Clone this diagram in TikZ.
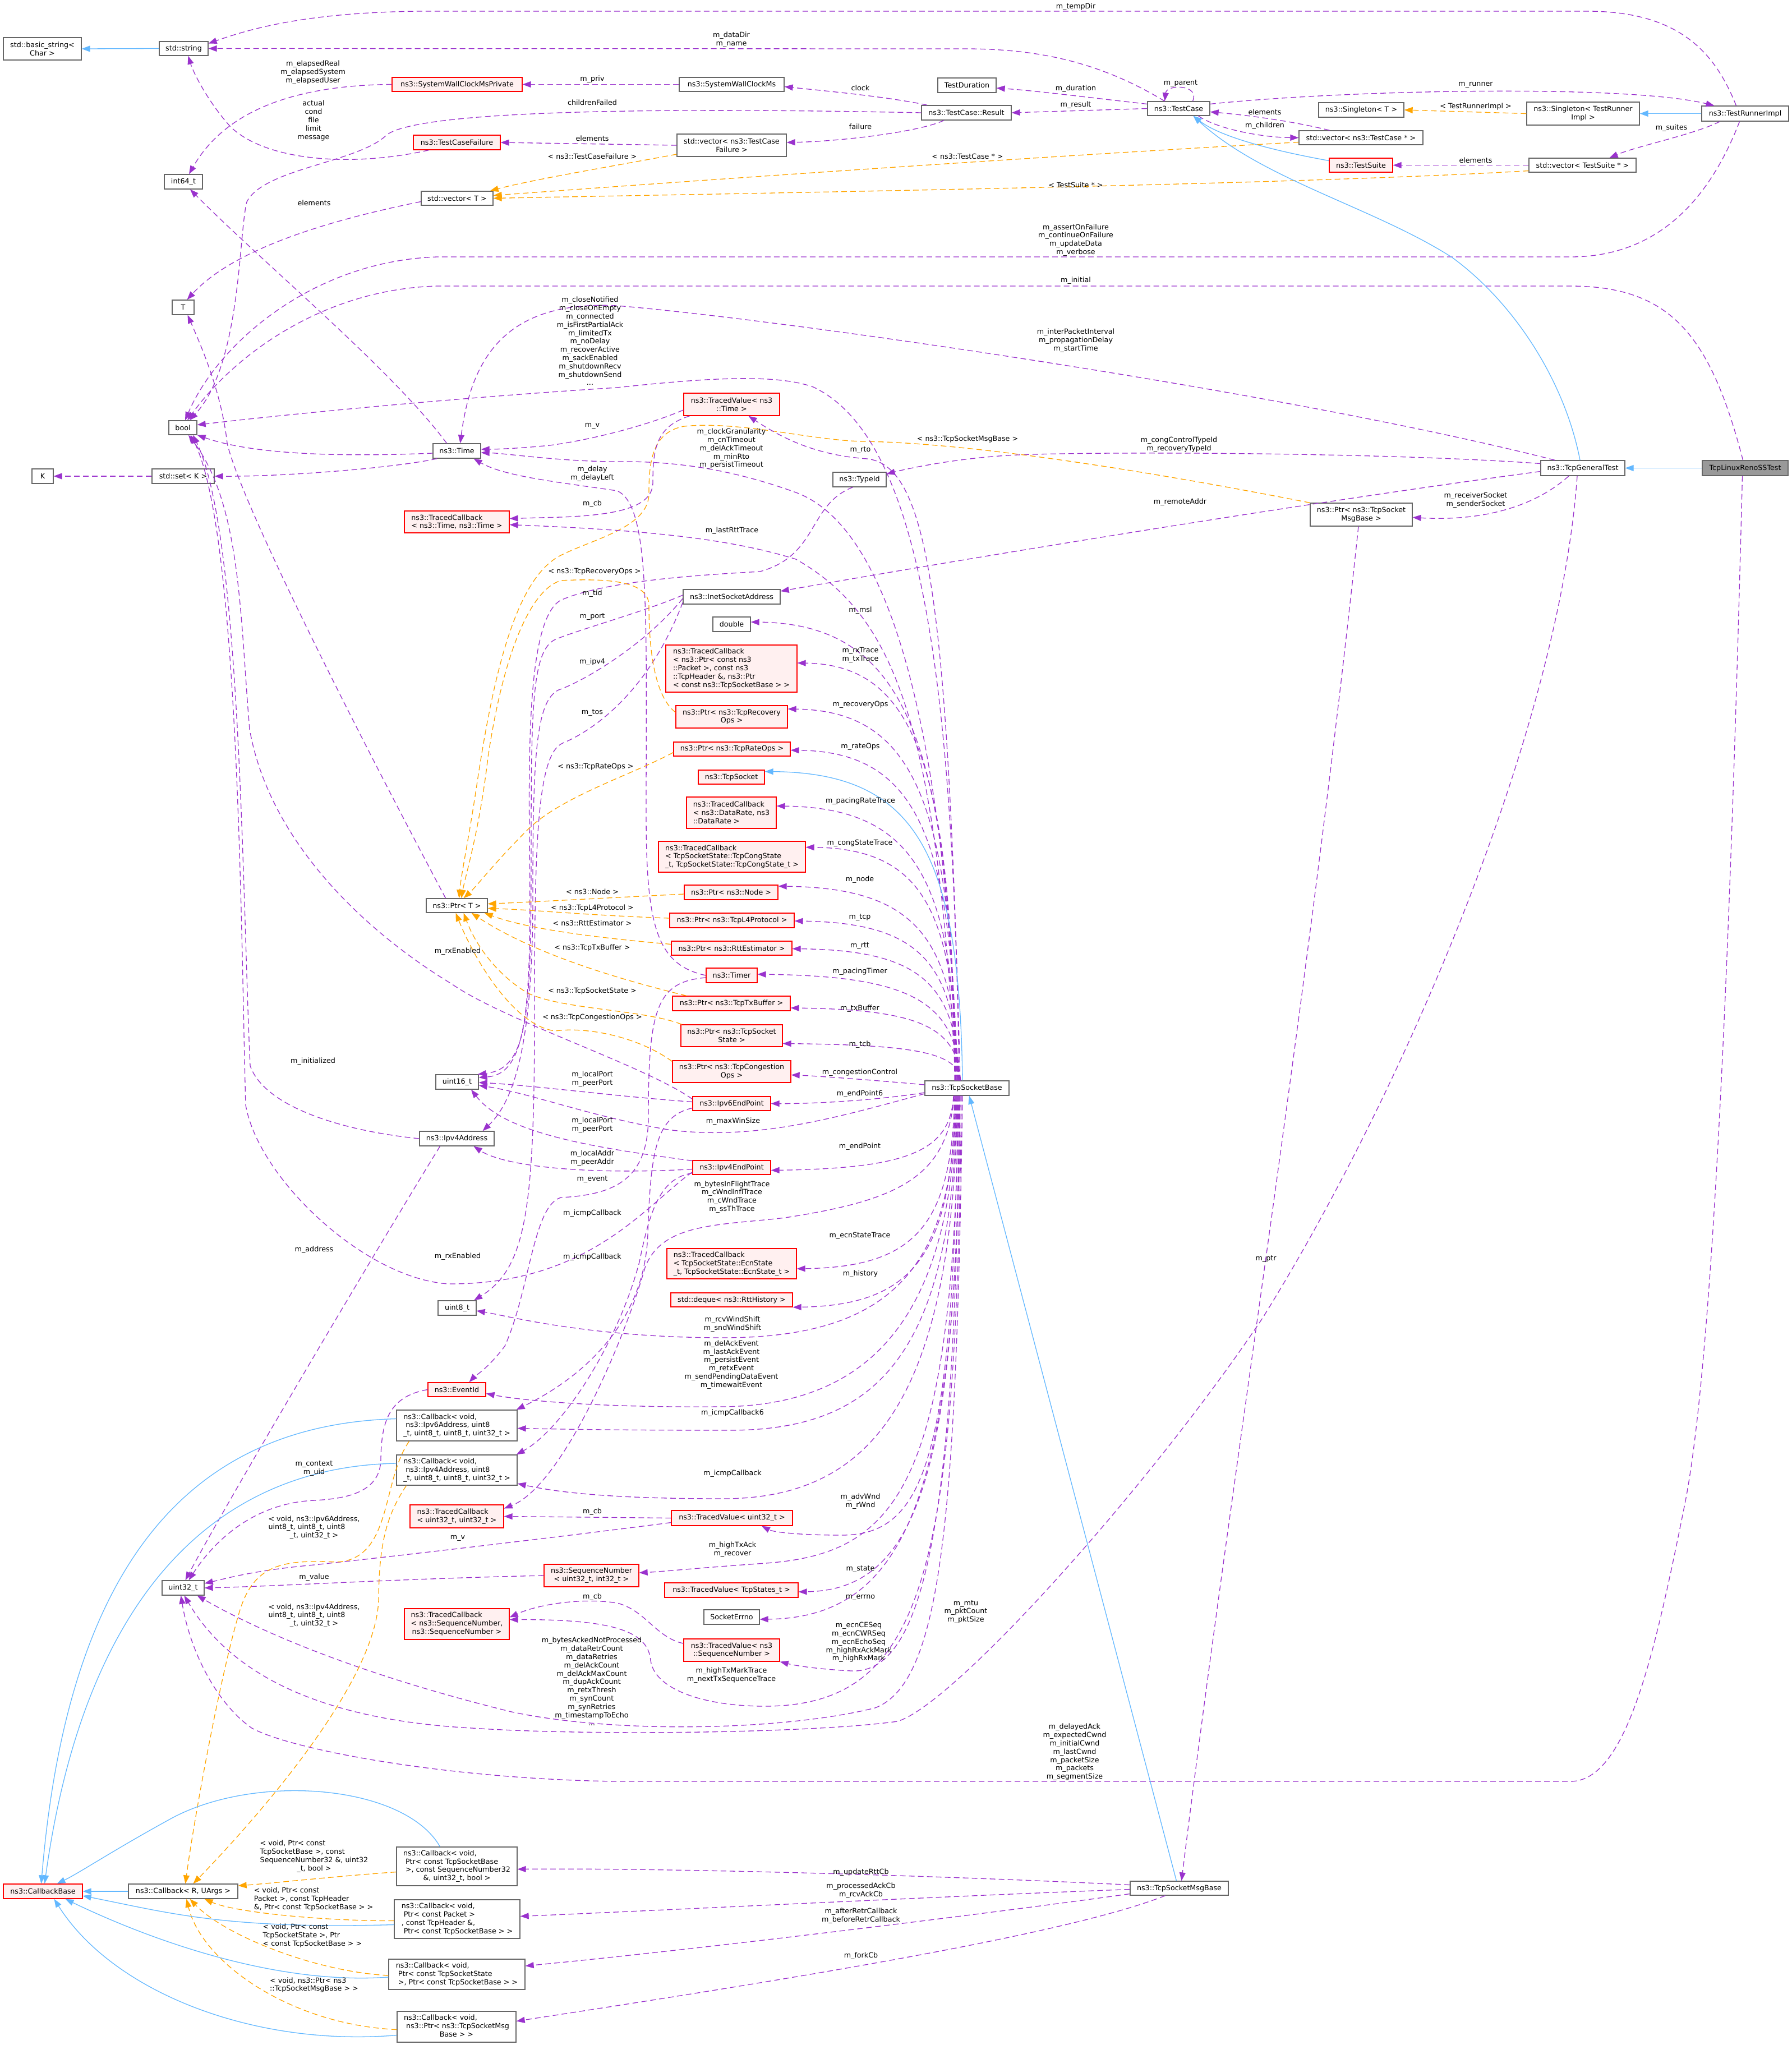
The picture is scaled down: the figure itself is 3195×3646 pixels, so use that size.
\documentclass[tikz,border=0pt]{standalone}
\usepackage{fontspec}
\setmainfont{DejaVu Sans}
\usetikzlibrary{arrows.meta}
\newcommand\nf{\fontsize{12.7}{14.8}\selectfont}
\newcommand\lc[2]{\begin{tabular}{@{}l@{}}#1\\\multicolumn{1}{@{}c@{}}{#2}\end{tabular}}
\definecolor{purp}{HTML}{9A32CD}
\definecolor{blu}{HTML}{63B8FF}
\definecolor{orng}{HTML}{FFA500}
\definecolor{boxgray}{HTML}{666666}
\definecolor{redfill}{HTML}{FFF0F0}
\definecolor{grayfill}{HTML}{999999}
\tikzset{
  cls/.style={draw=boxgray, fill=white, line width=1.3pt, inner sep=0pt, align=center, font=\nf},
  redcls/.style={cls, draw=red, fill=redfill},
  usee/.style={draw=purp, line width=1.3pt, dash pattern=on 10pt off 6pt, -{Triangle[length=15pt,width=11pt]}},
  inh/.style={draw=blu, line width=1.3pt, -{Triangle[length=15pt,width=11pt]}},
  tmpl/.style={draw=orng, line width=1.3pt, dash pattern=on 10pt off 6pt, -{Triangle[length=15pt,width=11pt]}},
  lbl/.style={font=\nf, align=center, inner sep=0pt}
}
\begin{document}
\begin{tikzpicture}[x=1pt,y=-1pt]
\fill[white] (0,0) rectangle (3195,3646);
\useasboundingbox (0,0) rectangle (3195,3646);

% ---------------- nodes ----------------
\node[cls,minimum width=139pt,minimum height=40pt] (basicstr) at (75.5,87) {std::basic\_string<\\Char >};
\node[cls,minimum width=87pt,minimum height=25pt] (stdstring) at (327.5,86.5) {std::string};
\node[redcls,minimum width=232pt,minimum height=25pt] (swcmp) at (815,150.5) {ns3::SystemWallClockMsPrivate};
\node[cls,minimum width=187pt,minimum height=25pt] (swcm) at (1304.5,150.5) {ns3::SystemWallClockMs};
\node[cls,minimum width=104pt,minimum height=26pt] (testduration) at (1724,152) {TestDuration};
\node[cls,minimum width=160pt,minimum height=26pt] (result) at (1723,201) {ns3::TestCase::Result};
\node[cls,minimum width=111pt,minimum height=25pt] (testcase) at (2101.5,193.5) {ns3::TestCase};
\node[cls,minimum width=152pt,minimum height=26pt] (singletonT) at (2427,196) {ns3::Singleton< T >};
\node[cls,minimum width=201pt,minimum height=41pt] (singletonTR) at (2822.5,202.5) {ns3::Singleton< TestRunner\\Impl >};
\node[cls,minimum width=155pt,minimum height=27pt] (trimpl) at (3111.5,202.5) {ns3::TestRunnerImpl};
\node[redcls,minimum width=155pt,minimum height=26pt] (tcfailure) at (814.5,254) {ns3::TestCaseFailure};
\node[cls,minimum width=195pt,minimum height=40pt] (vecTCF) at (1304.5,259) {std::vector< ns3::TestCase\\Failure >};
\node[cls,minimum width=221pt,minimum height=25pt] (vecTC) at (2426.5,245.5) {std::vector< ns3::TestCase * >};
\node[cls,minimum width=68pt,minimum height=26pt] (int64) at (327,324) {int64\_t};
\node[redcls,minimum width=113pt,minimum height=25pt] (testsuite) at (2426.5,294.5) {ns3::TestSuite};
\node[cls,minimum width=191pt,minimum height=25pt] (vecTS) at (2821.5,294.5) {std::vector< TestSuite * >};
\node[cls,minimum width=128pt,minimum height=25pt] (vecT) at (815,353.5) {std::vector< T >};
\node[cls,minimum width=39pt,minimum height=26pt] (T) at (326.5,548) {T};
\node[cls,minimum width=50pt,minimum height=25pt] (bool) at (326,762.5) {bool};
\node[redcls,minimum width=171pt,minimum height=40pt] (tvTime) at (1304.5,721) {ns3::TracedValue< ns3\\::Time >};
\node[cls,minimum width=85pt,minimum height=26pt] (time) at (814.5,804) {ns3::Time};
\node[cls,minimum width=95pt,minimum height=26pt] (typeid) at (1532.5,855) {ns3::TypeId};
\node[cls,minimum width=150pt,minimum height=27pt] (tcpgt) at (2822,834.5) {ns3::TcpGeneralTest};
\node[cls,fill=grayfill,minimum width=153pt,minimum height=27pt] (reno) at (3111.5,834.5) {TcpLinuxRenoSSTest};
\node[cls,minimum width=182pt,minimum height=41pt] (ptrMsg) at (2427,917.5) {ns3::Ptr< ns3::TcpSocket\\MsgBase >};
\node[cls,minimum width=38pt,minimum height=26pt] (K) at (76,849) {K};
\node[cls,minimum width=111pt,minimum height=26pt] (setK) at (326.5,849) {std::set< K >};
\node[redcls,align=left,minimum width=187pt,minimum height=39pt] (tcTime) at (814.5,930.5) {ns3::TracedCallback\\< ns3::Time, ns3::Time >};
\node[cls,minimum width=173pt,minimum height=26pt] (inet) at (1304.5,1064) {ns3::InetSocketAddress};
\node[cls,minimum width=67pt,minimum height=26pt] (double) at (1304.5,1113) {double};
\node[redcls,align=left,minimum width=234pt,minimum height=84pt] (tcPacket) at (1304,1192) {ns3::TracedCallback\\< ns3::Ptr< const ns3\\::Packet >, const ns3\\::TcpHeader \&, ns3::Ptr\\< const ns3::TcpSocketBase > >};
\node[redcls,minimum width=199pt,minimum height=40pt] (ptrRec) at (1304.5,1278) {ns3::Ptr< ns3::TcpRecovery\\Ops >};
\node[redcls,minimum width=208pt,minimum height=25pt] (ptrRate) at (1305,1335.5) {ns3::Ptr< ns3::TcpRateOps >};
\node[redcls,minimum width=118pt,minimum height=25pt] (tcpsocket) at (1304,1385.5) {ns3::TcpSocket};
\node[redcls,align=left,minimum width=160pt,minimum height=56pt] (tcDataRate) at (1304,1449) {ns3::TracedCallback\\< ns3::DataRate, ns3\\::DataRate >};
\node[redcls,align=left,minimum width=262pt,minimum height=55pt] (tcCong) at (1305,1527.5) {ns3::TracedCallback\\< TcpSocketState::TcpCongState\\\_t, TcpSocketState::TcpCongState\_t >};
\node[cls,minimum width=109pt,minimum height=25pt] (ptrT) at (814.5,1614.5) {ns3::Ptr< T >};
\node[redcls,minimum width=167pt,minimum height=26pt] (ptrNode) at (1303.5,1591) {ns3::Ptr< ns3::Node >};
\node[redcls,minimum width=222pt,minimum height=26pt] (ptrL4) at (1305,1641) {ns3::Ptr< ns3::TcpL4Protocol >};
\node[redcls,minimum width=215pt,minimum height=25pt] (ptrRtt) at (1304.5,1690.5) {ns3::Ptr< ns3::RttEstimator >};
\node[redcls,minimum width=91pt,minimum height=26pt] (timer) at (1304.5,1739) {ns3::Timer};
\node[redcls,minimum width=210pt,minimum height=26pt] (ptrTx) at (1304,1789) {ns3::Ptr< ns3::TcpTxBuffer >};
\node[redcls,minimum width=181pt,minimum height=39pt] (ptrTcb) at (1304.5,1846.5) {ns3::Ptr< ns3::TcpSocket\\State >};
\node[redcls,minimum width=211pt,minimum height=39pt] (ptrCong) at (1304.5,1910.5) {ns3::Ptr< ns3::TcpCongestion\\Ops >};
\node[cls,minimum width=150pt,minimum height=26pt] (tsb) at (1724,1940) {ns3::TcpSocketBase};
\node[cls,minimum width=76pt,minimum height=26pt] (uint16) at (815,1929) {uint16\_t};
\node[redcls,minimum width=139pt,minimum height=25pt] (ipv6ep) at (1304.5,1967.5) {ns3::Ipv6EndPoint};
\node[cls,minimum width=133pt,minimum height=26pt] (ipv4addr) at (814.5,2030) {ns3::Ipv4Address};
\node[redcls,minimum width=139pt,minimum height=25pt] (ipv4ep) at (1304.5,2081.5) {ns3::Ipv4EndPoint};
\node[redcls,align=left,minimum width=231pt,minimum height=54pt] (tcEcn) at (1304.5,2253) {ns3::TracedCallback\\< TcpSocketState::EcnState\\\_t, TcpSocketState::EcnState\_t >};
\node[redcls,minimum width=217pt,minimum height=25pt] (deque) at (1304.5,2317.5) {std::deque< ns3::RttHistory >};
\node[cls,minimum width=68pt,minimum height=26pt] (uint8) at (815,2332) {uint8\_t};
\node[redcls,minimum width=103pt,minimum height=25pt] (eventid) at (814.5,2477.5) {ns3::EventId};
\node[cls,align=left,minimum width=215pt,minimum height=55pt] (cbIpv6) at (814.5,2541.5) {ns3::Callback< void,\\\hspace*{4pt}ns3::Ipv6Address, uint8\\\_t, uint8\_t, uint8\_t, uint32\_t >};
\node[cls,align=left,minimum width=215pt,minimum height=54pt] (cbIpv4) at (814.5,2621) {ns3::Callback< void,\\\hspace*{4pt}ns3::Ipv4Address, uint8\\\_t, uint8\_t, uint8\_t, uint32\_t >};
\node[redcls,align=left,minimum width=167pt,minimum height=41pt] (tcU32) at (814.5,2703.5) {ns3::TracedCallback\\< uint32\_t, uint32\_t >};
\node[redcls,minimum width=216pt,minimum height=27pt] (tvU32) at (1305,2706.5) {ns3::TracedValue< uint32\_t >};
\node[cls,minimum width=75pt,minimum height=26pt] (uint32) at (326.5,2831) {uint32\_t};
\node[redcls,minimum width=169pt,minimum height=40pt] (seqnum) at (1054.5,2809) {ns3::SequenceNumber\\< uint32\_t, int32\_t >};
\node[redcls,minimum width=238pt,minimum height=26pt] (tvStates) at (1304,2835) {ns3::TracedValue< TcpStates\_t >};
\node[cls,minimum width=99pt,minimum height=26pt] (sockerrno) at (1304.5,2883) {SocketErrno};
\node[redcls,minimum width=187pt,minimum height=55pt] (tcSeq) at (814.5,2895.5) {\lc{ns3::TracedCallback\\< ns3::SequenceNumber,}{ns3::SequenceNumber >}};
\node[redcls,minimum width=171pt,minimum height=40pt] (tvSeq) at (1304.5,2942) {ns3::TracedValue< ns3\\::SequenceNumber >};
\node[redcls,minimum width=141pt,minimum height=26pt] (cbBase) at (76.5,3372) {ns3::CallbackBase};
\node[cls,minimum width=195pt,minimum height=26pt] (cbRU) at (326.5,3372) {ns3::Callback< R, UArgs >};
\node[cls,minimum width=215pt,minimum height=69pt] (cbSeq) at (814.5,3327.5) {\lc{ns3::Callback< void,\\\hspace*{4pt}Ptr< const TcpSocketBase\\\hspace*{4pt}>, const SequenceNumber32}{\&, uint32\_t, bool >}};
\node[cls,align=left,minimum width=224pt,minimum height=69pt] (cbPkt) at (815,3421.5) {ns3::Callback< void,\\\hspace*{4pt}Ptr< const Packet >\\, const TcpHeader \&,\\\hspace*{4pt}Ptr< const TcpSocketBase > >};
\node[cls,align=left,minimum width=243pt,minimum height=54pt] (cbState) at (814.5,3520) {ns3::Callback< void,\\\hspace*{4pt}Ptr< const TcpSocketState\\\hspace*{4pt}>, Ptr< const TcpSocketBase > >};
\node[cls,minimum width=212pt,minimum height=55pt] (cbMsg) at (814,3613.5) {\lc{ns3::Callback< void,\\\hspace*{4pt}ns3::Ptr< ns3::TcpSocketMsg}{Base > >}};
\node[cls,minimum width=175pt,minimum height=25pt] (msgbase) at (2102.5,3366.5) {ns3::TcpSocketMsgBase};

% ---------------- top edges ----------------
\draw[usee] ([xshift=-16pt]trimpl.north) .. controls (3060,100) and (3000,20) .. (2830,20) -- (750,20) .. controls (550,22) and (450,50) .. ([yshift=9pt]stdstring.east);
\draw[usee] ([xshift=-25pt]testcase.north) .. controls (1960,110) and (1850,87) .. (1720,87) -- (stdstring.east);
\draw[inh] (stdstring.west) -- (basicstr.east);
\draw[usee] (swcmp.west) .. controls (520,152) and (400,200) .. ([xshift=10pt]int64.north);
\draw[usee] (swcm.west) -- (swcmp.east);
\draw[usee] ([xshift=-70pt]result.north) .. controls (1580,172) and (1470,162) .. ([yshift=-4pt]swcm.east);
\draw[usee] (result.west) .. controls (1300,194) and (760,190) .. (690,240) .. controls (640,290) and (470,300) .. (440,360) .. controls (425,420) and (430,650) .. ([xshift=12pt]bool.north);
\draw[usee] ([xshift=-40pt]result.south) .. controls (1640,235) and (1500,252) .. ([yshift=5pt]vecTCF.east);
\draw[usee] (testcase.west) -- (result.east);
\draw[usee] ([yshift=8pt]testcase.west) .. controls (1950,175) and (1850,162) .. ([yshift=-5pt]testduration.east);
\draw[usee] ([xshift=25pt]testcase.north) .. controls (2140,150) and (2080,150) .. ([xshift=-25pt]testcase.north);
\draw[usee] ([xshift=-50pt]tcfailure.south) .. controls (620,300) and (470,285) .. (410,225) .. controls (370,180) and (345,130) .. ([xshift=8pt]stdstring.south);
\draw[usee] (vecTCF.west) -- (tcfailure.east);
\draw[tmpl] ([yshift=-16pt]vecTCF.west) .. controls (1100,295) and (950,320) .. ([xshift=-6pt]vecT.north east);
\draw[usee] ([xshift=-56pt]vecTC.north) .. controls (2300,215) and (2220,205) .. ([yshift=-6pt]testcase.east);
\draw[usee] ([xshift=35pt]testcase.south) .. controls (2170,230) and (2250,245) .. (vecTC.west);
\draw[inh] ([yshift=8pt]testsuite.west) .. controls (2250,265) and (2170,240) .. ([xshift=26pt]testcase.south);
\draw[tmpl] ([yshift=-8pt]vecTC.west) .. controls (1800,282) and (1200,325) .. ([yshift=5pt]vecT.east);
\draw[usee] (vecTS.west) -- (testsuite.east);
\draw[tmpl] ([yshift=-10pt]vecTS.west) .. controls (2300,330) and (1300,345) .. (vecT.east);
\draw[tmpl] (singletonTR.west) -- (singletonT.east);
\draw[inh] (trimpl.west) -- (singletonTR.east);
\draw[usee] ([xshift=-45pt]trimpl.south) .. controls (3020,240) and (2920,260) .. ([xshift=48pt]vecTS.north);
\draw[usee] ([yshift=8pt]testcase.east) .. controls (2400,160) and (2900,150) .. ([xshift=-55pt]trimpl.north);
\draw[usee] ([yshift=-6pt]vecT.west) .. controls (600,390) and (420,440) .. ([xshift=7pt]T.north);
\draw[usee] ([xshift=-10pt]trimpl.south) .. controls (3050,350) and (2960,458) .. (2800,458) -- (780,458) .. controls (560,465) and (390,610) .. ([xshift=4pt]bool.north);
\draw[usee] ([xshift=-4pt]reno.north) .. controls (3050,600) and (2980,510) .. (2800,510) -- (780,510) .. controls (580,515) and (420,630) .. ([xshift=8pt]bool.north);
\draw[usee] ([xshift=-50pt]tcpgt.north) .. controls (2300,700) and (1400,570) .. (1100,545) .. controls (900,535) and (840,640) .. ([xshift=6pt]time.north);
\draw[inh] ([xshift=-5pt]tcpgt.north) .. controls (2790,680) and (2700,540) .. (2589,459) .. controls (2450,370) and (2250,320) .. ([xshift=26pt]testcase.south);
\draw[inh] (reno.west) -- (tcpgt.east);
\draw[usee] ([yshift=8pt]tcpgt.west) .. controls (2450,805) and (1900,805) .. (1796,812) .. controls (1700,818) and (1620,835) .. ([yshift=10pt]typeid.east);
\draw[usee] ([yshift=-6pt]tcpgt.west) .. controls (2300,900) and (1700,1000) .. ([yshift=10pt]inet.east);
\draw[usee] ([xshift=-25pt]tcpgt.south) .. controls (2740,900) and (2650,930) .. ([yshift=-5pt]ptrMsg.east);
\draw[tmpl] (ptrMsg.north west) .. controls (2100,850) and (1750,790) .. (1541,787) .. controls (1450,786) and (1320,750) .. (1220,760) .. controls (1160,770) and (1157,830) .. (1157,880) .. controls (1157,940) and (1060,960) .. (1000,990) .. controls (920,1030) and (880,1200) .. (850,1400) .. controls (835,1500) and (822,1560) .. ([xshift=4pt]ptrT.north);
\draw[usee] ([xshift=-5pt]ptrMsg.south) .. controls (2330,1800) and (2200,2600) .. ([xshift=4pt]msgbase.north);
\draw[usee] ([xshift=-5pt]reno.south) .. controls (3090,1500) and (3060,2400) .. (3004,2681) .. controls (2950,2950) and (2900,3176) .. (2800,3176) -- (1100,3176) .. controls (800,3172) and (520,3120) .. (449,3081) .. controls (390,3040) and (340,2950) .. ([xshift=-4pt]uint32.south);
\draw[usee] ([xshift=-10pt]tcpgt.south) .. controls (2780,1300) and (2500,1950) .. (2251,2350) .. controls (2050,2650) and (1700,3040) .. (1600,3069) .. controls (1450,3090) and (1050,3095) .. (842,3081) .. controls (600,3068) and (420,3000) .. ([xshift=2pt]uint32.south);

% ---------------- TcpSocketBase upward ----------------
\draw[usee] ([xshift=-14pt]tsb.north) .. controls (1700,1200) and (1640,780) .. (1450,690) .. controls (1380,665) and (1250,675) .. (1100,691) .. controls (800,710) and (500,740) .. ([yshift=5pt]bool.east);
\draw[usee] ([xshift=-12pt]tsb.north) .. controls (1690,1100) and (1660,830) .. (1546,818) .. controls (1460,812) and (1400,785) .. ([xshift=30pt]tvTime.south);
\draw[usee] ([xshift=-16pt]tsb.north) .. controls (1680,1200) and (1560,930) .. (1419,878) .. controls (1300,835) and (1200,822) .. (1100,823) .. controls (1000,823) and (900,808) .. ([yshift=-3pt]time.east);
\draw[usee] (timer.west) .. controls (1170,1720) and (1152,1650) .. (1152,1450) .. controls (1152,1100) and (1160,900) .. (1100,875) .. controls (1000,860) and (900,850) .. ([xshift=30pt]time.south);
\draw[usee] ([yshift=-10pt]tvTime.west) .. controls (1150,760) and (1050,785) .. (980,794) .. controls (920,800) and (880,801) .. ([yshift=3pt]time.east);
\draw[usee] ([xshift=-75pt]tvTime.south) .. controls (1170,760) and (1164,800) .. (1164,860) .. controls (1164,905) and (1100,918) .. (1000,922) -- ([yshift=6pt]tcTime.east);
\draw[usee] ([xshift=-20pt]tsb.north) .. controls (1670,1300) and (1600,1100) .. (1419,997) .. controls (1300,960) and (1150,945) .. ([yshift=-5pt]tcTime.east);
\draw[usee] ([xshift=-12pt]typeid.south) .. controls (1440,900) and (1460,990) .. (1355,1019) .. controls (1250,1025) and (1080,1035) .. (1000,1070) .. controls (945,1100) and (942,1300) .. (944,1500) .. controls (948,1800) and (940,1915) .. ([yshift=8pt]uint16.east);
\draw[usee] ([yshift=3pt]inet.west) .. controls (1150,1090) and (1040,1120) .. (990,1140) .. controls (950,1160) and (947,1250) .. (947,1500) .. controls (947,1800) and (945,1905) .. ([xshift=-2pt]uint16.north east);
\draw[usee] ([yshift=-3pt]inet.west) .. controls (1150,1150) and (1040,1215) .. (996,1230) .. controls (955,1250) and (950,1350) .. (950,1600) .. controls (950,1850) and (920,1960) .. ([xshift=46pt]ipv4addr.north);
\draw[usee] ([yshift=-10pt]inet.west) .. controls (1150,1250) and (1040,1310) .. (1003,1325) .. controls (958,1345) and (953,1500) .. (953,1800) .. controls (953,2150) and (940,2260) .. ([xshift=30pt]uint8.north);
\draw[tmpl] ([yshift=8pt]ptrRec.west) .. controls (1165,1240) and (1157,1150) .. (1157,1080) .. controls (1157,1040) and (1100,1030) .. (1000,1035) .. controls (950,1050) and (900,1150) .. (870,1350) .. controls (855,1480) and (830,1560) .. ([xshift=8pt]ptrT.north);
\draw[tmpl] ([yshift=-6pt]ptrRate.west) .. controls (1130,1380) and (1000,1420) .. (940,1480) .. controls (880,1540) and (850,1580) .. ([xshift=12pt]ptrT.north);
% Ptr<T> template instances
\draw[tmpl] ([yshift=-3pt]ptrNode.west) .. controls (1100,1600) and (950,1608) .. ([yshift=3pt]ptrT.east);
\draw[tmpl] ([yshift=4pt]ptrL4.west) .. controls (1050,1632) and (950,1622) .. ([yshift=-5pt]ptrT.east);
\draw[tmpl] ([yshift=7pt]ptrRtt.west) .. controls (1100,1675) and (950,1660) .. ([xshift=-6pt]ptrT.south east);
\draw[tmpl] ([xshift=-80pt]ptrTx.north) .. controls (1100,1745) and (950,1700) .. ([xshift=26pt]ptrT.south);
\draw[tmpl] ([xshift=2pt]ptrTcb.north west) .. controls (1150,1800) and (1000,1800) .. (940,1770) .. controls (890,1740) and (850,1690) .. ([xshift=12pt]ptrT.south);
\draw[tmpl] ([yshift=-2pt]ptrCong.north west) .. controls (1140,1850) and (1050,1830) .. (990,1838) .. controls (920,1830) and (850,1720) .. ([xshift=-2pt]ptrT.south);

\draw[usee] ([xshift=-22pt]tsb.north) .. controls (1697,1314) and (1611,1112) .. ([yshift=4pt]double.east);
\draw[usee] ([xshift=-21pt]tsb.north) .. controls (1698,1368) and (1632,1185) .. ([yshift=10pt]tcPacket.east);
\draw[usee] ([xshift=-20pt]tsb.north) .. controls (1699,1430) and (1629,1267) .. ([yshift=14pt]ptrRec.east);
\draw[usee] ([xshift=-19pt]tsb.north) .. controls (1700,1485) and (1631,1340) .. ([yshift=-2pt]ptrRate.east);
\draw[inh] ([xshift=-8pt]tsb.north) .. controls (1711,1513) and (1628,1378) .. ([yshift=10pt]tcpsocket.east);
\draw[usee] ([xshift=-18pt]tsb.north) .. controls (1701,1560) and (1625,1440) .. ([yshift=12pt]tcDataRate.east);
\draw[usee] ([xshift=-17pt]tsb.north) .. controls (1702,1615) and (1639,1513) .. ([yshift=17pt]tcCong.east);
\draw[usee] ([xshift=-16pt]tsb.north) .. controls (1703,1667) and (1628,1583) .. ([yshift=11pt]ptrNode.east);
\draw[usee] ([xshift=-15pt]tsb.north) .. controls (1704,1713) and (1636,1645) .. ([yshift=-1pt]ptrL4.east);
\draw[usee] ([xshift=-14pt]tsb.north) .. controls (1705,1751) and (1636,1694) .. ([yshift=-1pt]ptrRtt.east);
\draw[usee] ([xshift=-13pt]tsb.north) .. controls (1706,1785) and (1621,1740) .. ([yshift=2pt]timer.east);
\draw[usee] ([xshift=-12pt]tsb.north) .. controls (1707,1830) and (1636,1800) .. ([yshift=-8pt]ptrTx.east);
\draw[usee] ([xshift=-11pt]tsb.north) .. controls (1708,1877) and (1633,1863) .. ([yshift=-14pt]ptrTcb.east);
\draw[usee] ([yshift=6pt]tsb.west) .. controls (1550,1925) and (1450,1918) .. ([yshift=-6pt]ptrCong.east);
\draw[usee] ([yshift=-8pt]tsb.west) .. controls (1560,1962) and (1450,1968) .. (ipv6ep.east);

% ---------------- TcpSocketBase downward ----------------
\draw[usee] ([xshift=-24pt]tsb.south) .. controls (1695,2053) and (1618,2083) .. ([yshift=-5pt]ipv4ep.east);
\draw[usee] ([xshift=-22pt]tsb.south) .. controls (1697,2185) and (1631,2259) .. ([yshift=-9pt]tcEcn.east);
\draw[usee] ([xshift=-21pt]tsb.south) .. controls (1698,2236) and (1630,2327) .. (deque.south east);
\draw[usee] ([xshift=-13pt]tsb.south) .. controls (1706,2617) and (1639,2835) .. ([yshift=-3pt]tvStates.east);
\draw[usee] ([xshift=-12pt]tsb.south) .. controls (1707,2653) and (1622,2884) .. ([yshift=-4pt]sockerrno.east);
\draw[usee] ([xshift=-20pt]tsb.south) .. controls (1700,2250) and (1600,2385) .. (1289,2385) .. controls (1050,2385) and (900,2345) .. ([yshift=-5pt]uint8.east);
\draw[usee] ([xshift=-19pt]tsb.south) .. controls (1700,2350) and (1550,2505) .. (1289,2508) .. controls (1050,2510) and (920,2495) .. ([yshift=-7pt]eventid.east);
\draw[usee] ([xshift=-18pt]tsb.south) .. controls (1700,2420) and (1560,2550) .. (1300,2550) .. controls (1100,2550) and (1000,2548) .. ([yshift=-5pt]cbIpv6.east);
\draw[usee] ([xshift=-17pt]tsb.south) .. controls (1700,2500) and (1550,2672) .. (1289,2672) .. controls (1100,2672) and (1000,2662) .. ([yshift=-24pt]cbIpv4.east);
\draw[usee] ([xshift=-16pt]tsb.south) .. controls (1700,2600) and (1650,2737) .. (1500,2737) .. controls (1430,2737) and (1380,2732) .. ([xshift=53pt]tvU32.south);
\draw[usee] ([xshift=-15pt]tsb.south) .. controls (1700,2650) and (1600,2770) .. (1365,2787) .. controls (1250,2795) and (1180,2802) .. ([yshift=5pt]seqnum.east);
\draw[usee] ([xshift=-14pt]tsb.south) .. controls (1705,2700) and (1650,2985) .. (1518,2979) .. controls (1460,2976) and (1420,2970) .. (tvSeq.south east);
\draw[usee] ([xshift=-10pt]tsb.south) .. controls (1705,2800) and (1650,3040) .. (1365,3042) .. controls (1250,3042) and (1166,3010) .. (1160,2960) .. controls (1155,2910) and (1100,2887) .. ([yshift=8pt]tcSeq.east);
\draw[usee] ([xshift=-8pt]tsb.south) .. controls (1705,2700) and (1680,3000) .. (1560,3045) .. controls (1400,3085) and (1100,3092) .. (912,3052) .. controls (700,3000) and (500,2930) .. ([xshift=25pt]uint32.south);
\draw[usee] ([xshift=-23pt]tsb.south) .. controls (1690,2100) and (1600,2140) .. (1400,2171) .. controls (1280,2185) and (1180,2180) .. (1150,2260) .. controls (1110,2400) and (1000,2650) .. ([yshift=14pt]tcU32.east);
\draw[usee] ([yshift=-10pt]tsb.west) .. controls (1500,1990) and (1350,2035) .. (1191,2014) .. controls (1050,1990) and (950,1950) .. ([yshift=-6pt]uint16.east);

% ---------------- left-middle ----------------
\draw[usee] ([yshift=3pt]ipv6ep.west) .. controls (1100,1955) and (950,1935) .. ([yshift=-1pt]uint16.east);
\draw[usee] ([yshift=12pt]ipv4ep.west) .. controls (1050,2045) and (900,2020) .. ([xshift=25pt]uint16.south);
\draw[usee] ([yshift=-3pt]ipv4ep.west) .. controls (1050,2095) and (900,2080) .. ([xshift=30pt]ipv4addr.south);
\draw[usee] ([yshift=8pt]ipv6ep.west) .. controls (1150,1900) and (900,1820) .. (805,1754) .. controls (650,1660) and (480,1500) .. (445,1300) .. controls (428,1100) and (430,900) .. ([xshift=10pt]bool.south);
\draw[usee] ([yshift=-8pt]ipv4ep.west) .. controls (1150,2150) and (1050,2290) .. (800,2289) .. controls (650,2280) and (460,2100) .. (438,1970) .. controls (430,1700) and (428,950) .. ([xshift=14pt]bool.south);
\draw[usee] (ipv4addr.west) .. controls (600,2015) and (470,1970) .. (446,1900) .. controls (432,1600) and (430,950) .. ([xshift=18pt]bool.south);
\draw[usee] ([yshift=-4pt]time.west) .. controls (600,815) and (450,810) .. (bool.south east);
\draw[usee] ([xshift=8pt]time.south west) .. controls (700,835) and (500,850) .. (setK.east);
\draw[usee] (setK.west) -- (K.east);
\draw[usee] ([xshift=-18pt]time.north) .. controls (700,660) and (470,470) .. ([xshift=12pt]int64.south);
\draw[usee] ([xshift=-20pt]ptrT.north) .. controls (650,1330) and (430,900) .. (405,790) .. controls (395,700) and (360,620) .. ([xshift=8pt]T.south);
\draw[usee] ([yshift=-4pt]timer.west) .. controls (1170,1750) and (1156,1800) .. (1156,1990) .. controls (1156,2100) and (1100,2130) .. (1000,2135) .. controls (950,2150) and (945,2300) .. (900,2400) .. controls (870,2440) and (845,2455) .. ([xshift=22pt]eventid.north);
\draw[usee] ([yshift=-8pt]ipv6ep.west) .. controls (1170,1990) and (1160,2050) .. (1155,2200) .. controls (1150,2350) and (1050,2450) .. ([xshift=-2pt]cbIpv6.north east);
\draw[usee] ([yshift=-10pt]ipv4ep.west) .. controls (1180,2100) and (1160,2150) .. (1140,2250) .. controls (1100,2400) and (1000,2550) .. ([xshift=-2pt]cbIpv4.north east);
\draw[usee] (tvU32.west) -- (tcU32.east);
\draw[usee] ([yshift=-8pt]tvU32.west) .. controls (1000,2740) and (700,2775) .. (560,2790) .. controls (450,2800) and (400,2815) .. ([yshift=8pt]uint32.east);
\draw[usee] (seqnum.west) .. controls (700,2815) and (500,2828) .. (uint32.east);
\draw[usee] ([yshift=12pt]tvSeq.west) .. controls (1170,2920) and (1150,2870) .. (1100,2858) .. controls (1040,2848) and (960,2860) .. ([yshift=12pt]tcSeq.east);
\draw[usee] (eventid.west) .. controls (690,2490) and (680,2540) .. (679,2602) .. controls (678,2660) and (620,2672) .. (560,2675) .. controls (450,2680) and (380,2750) .. ([xshift=10pt]uint32.north);
\draw[usee] ([xshift=-30pt]ipv4addr.south) .. controls (700,2180) and (420,2650) .. ([xshift=4pt]uint32.north);

% ---------------- bottom-left ----------------
\draw[tmpl] ([xshift=-85pt]cbIpv6.south) .. controls (680,2640) and (700,2780) .. (600,2785) .. controls (500,2780) and (450,2790) .. (425,2880) .. controls (390,3000) and (345,3250) .. ([xshift=4pt]cbRU.north);
\draw[tmpl] ([xshift=-90pt]cbIpv4.south) .. controls (690,2700) and (676,2750) .. (675,2850) .. controls (673,3000) and (450,3250) .. ([xshift=18pt]cbRU.north);
\draw[tmpl] ([yshift=-10pt]cbSeq.west) .. controls (600,3345) and (480,3358) .. ([yshift=10pt]cbRU.east);
\draw[tmpl] ([yshift=-3pt]cbPkt.west) .. controls (580,3425) and (420,3410) .. ([xshift=38pt]cbRU.south);
\draw[tmpl] ([yshift=-2pt]cbState.west) .. controls (560,3515) and (400,3450) .. ([xshift=12pt]cbRU.south);
\draw[tmpl] ([yshift=-5pt]cbMsg.west) .. controls (520,3610) and (360,3500) .. ([xshift=6pt]cbRU.south);
\draw[inh] (cbRU.west) -- (cbBase.east);
\draw[inh] ([yshift=12pt]cbIpv6.west) .. controls (330,2540) and (120,2800) .. ([xshift=-3pt]cbBase.north);
\draw[inh] ([yshift=12pt]cbIpv4.west) .. controls (380,2615) and (150,2850) .. ([xshift=3pt]cbBase.north);
\draw[inh] ([xshift=-30pt]cbSeq.north) .. controls (720,3180) and (450,3160) .. (300,3245) .. controls (200,3300) and (140,3340) .. ([xshift=25pt]cbBase.north);
\draw[inh] ([yshift=-10pt]cbPkt.west) .. controls (400,3440) and (300,3410) .. ([yshift=-8pt]cbBase.east);
\draw[inh] ([yshift=-5pt]cbState.west) .. controls (480,3540) and (250,3450) .. ([xshift=40pt]cbBase.south);
\draw[inh] ([yshift=-15pt]cbMsg.west) .. controls (450,3650) and (200,3550) .. ([xshift=20pt]cbBase.south);

% ---------------- TcpSocketMsgBase ----------------
\draw[inh] ([xshift=-5pt]msgbase.north) -- ([xshift=4pt]tsb.south);
\draw[usee] ([yshift=6pt]msgbase.west) .. controls (1700,3345) and (1200,3330) .. ([yshift=-5pt]cbSeq.east);
\draw[usee] ([yshift=-2pt]msgbase.west) .. controls (1700,3380) and (1200,3405) .. ([yshift=5pt]cbPkt.east);
\draw[usee] ([yshift=-10pt]msgbase.west) .. controls (1700,3420) and (1200,3480) .. ([yshift=15pt]cbState.east);
\draw[usee] ([xshift=-25pt]msgbase.south) .. controls (1900,3450) and (1400,3530) .. ([yshift=10pt]cbMsg.east);

% ---------------- labels ----------------
\node[lbl] (l01) at (1918,12) {m\_tempDir};
\node[lbl] (l02) at (1304,71) {m\_dataDir\\m\_name};
\node[lbl] (l03) at (558,129) {m\_elapsedReal\\m\_elapsedSystem\\m\_elapsedUser};
\node[lbl] (l04) at (1056,141) {m\_priv};
\node[lbl] (l05) at (1534,157) {clock};
\node[lbl] (l06) at (1056,183) {childrenFailed};
\node[lbl] (l07) at (1534,226) {failure};
\node[lbl] (l08) at (1918,187) {m\_result};
\node[lbl] (l09) at (1918,158) {m\_duration};
\node[lbl] (l10) at (2105,149) {m\_parent};
\node[lbl] (l11) at (559,215) {actual\\cond\\file\\limit\\message};
\node[lbl] (l12) at (1056,247) {elements};
\node[lbl] (l13) at (1056,279) {< ns3::TestCaseFailure >};
\node[lbl] (l14) at (2255,200) {elements};
\node[lbl] (l15) at (2255,224) {m\_children};
\node[lbl] (l16) at (1725,279) {< ns3::TestCase * >};
\node[lbl] (l17) at (2631,286) {elements};
\node[lbl] (l18) at (1918,330) {< TestSuite * >};
\node[lbl] (l19) at (2631,190) {< TestRunnerImpl >};
\node[lbl] (l20) at (2980,228) {m\_suites};
\node[lbl] (l21) at (2631,151) {m\_runner};
\node[lbl] (l22) at (560,362) {elements};
\node[lbl] (l23) at (1918,428) {m\_assertOnFailure\\m\_continueOnFailure\\m\_updateData\\m\_verbose};
\node[lbl] (l24) at (1918,500) {m\_initial};
\node[lbl] (l25) at (1918,607) {m\_interPacketInterval\\m\_propagationDelay\\m\_startTime};
\node[lbl] (l26) at (2102,793) {m\_congControlTypeId\\m\_recoveryTypeId};
\node[lbl] (l27) at (2104,895) {m\_remoteAddr};
\node[lbl] (l28) at (2631,892) {m\_receiverSocket\\m\_senderSocket};
\node[lbl] (l29) at (1725,783) {< ns3::TcpSocketMsgBase >};
\node[lbl] (l30) at (2257,2245) {m\_ptr};
\node[lbl] (l31) at (1916,3124) {m\_delayedAck\\m\_expectedCwnd\\m\_initialCwnd\\m\_lastCwnd\\m\_packetSize\\m\_packets\\m\_segmentSize};
\node[lbl] (l32) at (1722,2874) {m\_mtu\\m\_pktCount\\m\_pktSize};
\node[lbl] (l33) at (1052,608) {m\_closeNotified\\m\_closeOnEmpty\\m\_connected\\m\_isFirstPartialAck\\m\_limitedTx\\m\_noDelay\\m\_recoverActive\\m\_sackEnabled\\m\_shutdownRecv\\m\_shutdownSend\\...};
\node[lbl] (l34) at (1534,803) {m\_rto};
\node[lbl] (l35) at (1304,800) {m\_clockGranularity\\m\_cnTimeout\\m\_delAckTimeout\\m\_minRto\\m\_persistTimeout};
\node[lbl] (l36) at (1056,845) {m\_delay\\m\_delayLeft};
\node[lbl] (l37) at (1056,759) {m\_v};
\node[lbl] (l38) at (1056,898) {m\_cb};
\node[lbl] (l39) at (1305,946) {m\_lastRttTrace};
\node[lbl] (l40) at (1056,1058) {m\_tid};
\node[lbl] (l41) at (1056,1100) {m\_port};
\node[lbl] (l42) at (1056,1180) {m\_ipv4};
\node[lbl] (l43) at (1056,1271) {m\_tos};
\node[lbl] (l44) at (1060,1019) {< ns3::TcpRecoveryOps >};
\node[lbl] (l45) at (1062,1367) {< ns3::TcpRateOps >};
\node[lbl] (l46) at (1534,1088) {m\_msl};
\node[lbl] (l47) at (1534,1168) {m\_rxTrace\\m\_txTrace};
\node[lbl] (l48) at (1534,1256) {m\_recoveryOps};
\node[lbl] (l49) at (1534,1331) {m\_rateOps};
\node[lbl] (l50) at (1534,1428) {m\_pacingRateTrace};
\node[lbl] (l51) at (1533,1503) {m\_congStateTrace};
\node[lbl] (l52) at (1056,1590) {< ns3::Node >};
\node[lbl] (l53) at (1533,1568) {m\_node};
\node[lbl] (l54) at (1056,1619) {< ns3::TcpL4Protocol >};
\node[lbl] (l55) at (1533,1636) {m\_tcp};
\node[lbl] (l56) at (1056,1646) {< ns3::RttEstimator >};
\node[lbl] (l57) at (1533,1687) {m\_rtt};
\node[lbl] (l58) at (816,1696) {m\_rxEnabled};
\node[lbl] (l59) at (1056,1690) {< ns3::TcpTxBuffer >};
\node[lbl] (l60) at (1533,1732) {m\_pacingTimer};
\node[lbl] (l61) at (1533,1798) {m\_txBuffer};
\node[lbl] (l62) at (1056,1767) {< ns3::TcpSocketState >};
\node[lbl] (l63) at (1533,1862) {m\_tcb};
\node[lbl] (l64) at (1056,1814) {< ns3::TcpCongestionOps >};
\node[lbl] (l65) at (1533,1912) {m\_congestionControl};
\node[lbl] (l66) at (558,1892) {m\_initialized};
\node[lbl] (l67) at (1056,1924) {m\_localPort\\m\_peerPort};
\node[lbl] (l68) at (1533,1950) {m\_endPoint6};
\node[lbl] (l69) at (1307,1999) {m\_maxWinSize};
\node[lbl] (l70) at (1056,2006) {m\_localPort\\m\_peerPort};
\node[lbl] (l71) at (1533,2044) {m\_endPoint};
\node[lbl] (l72) at (1056,2065) {m\_localAddr\\m\_peerAddr};
\node[lbl] (l73) at (1056,2103) {m\_event};
\node[lbl] (l74) at (1305,2134) {m\_bytesInFlightTrace\\m\_cWndInflTrace\\m\_cWndTrace\\m\_ssThTrace};
\node[lbl] (l75) at (1056,2163) {m\_icmpCallback};
\node[lbl] (l76) at (1533,2203) {m\_ecnStateTrace};
\node[lbl] (l77) at (560,2228) {m\_address};
\node[lbl] (l78) at (816,2240) {m\_rxEnabled};
\node[lbl] (l79) at (1056,2241) {m\_icmpCallback};
\node[lbl] (l80) at (1534,2271) {m\_history};
\node[lbl] (l81) at (1306,2361) {m\_rcvWindShift\\m\_sndWindShift};
\node[lbl] (l82) at (1304,2433) {m\_delAckEvent\\m\_lastAckEvent\\m\_persistEvent\\m\_retxEvent\\m\_sendPendingDataEvent\\m\_timewaitEvent};
\node[lbl] (l83) at (1306,2519) {m\_icmpCallback6};
\node[lbl] (l84) at (560,2618) {m\_context\\m\_uid};
\node[lbl] (l85) at (1306,2627) {m\_icmpCallback};
\node[lbl] (l86) at (1534,2677) {m\_advWnd\\m\_rWnd};
\node[lbl] (l87) at (1056,2695) {m\_cb};
\node[lbl] (l88) at (560,2724) {\lc{< void, ns3::Ipv6Address,\\uint8\_t, uint8\_t, uint8}{\_t, uint32\_t >}};
\node[lbl] (l89) at (816,2742) {m\_v};
\node[lbl] (l90) at (1306,2763) {m\_highTxAck\\m\_recover};
\node[lbl] (l91) at (1534,2798) {m\_state};
\node[lbl] (l92) at (560,2812) {m\_value};
\node[lbl] (l93) at (1534,2848) {m\_errno};
\node[lbl] (l94) at (1056,2847) {m\_cb};
\node[lbl] (l95) at (560,2881) {\lc{< void, ns3::Ipv4Address,\\uint8\_t, uint8\_t, uint8}{\_t, uint32\_t >}};
\node[lbl] (l96) at (1531,2928) {m\_ecnCESeq\\m\_ecnCWRSeq\\m\_ecnEchoSeq\\m\_highRxAckMark\\m\_highRxMark};
\node[lbl] (l97) at (1304,2987) {m\_highTxMarkTrace\\m\_nextTxSequenceTrace};
\node[lbl] (l98) at (1055,2998) {m\_bytesAckedNotProcessed\\m\_dataRetrCount\\m\_dataRetries\\m\_delAckCount\\m\_delAckMaxCount\\m\_dupAckCount\\m\_retxThresh\\m\_synCount\\m\_synRetries\\m\_timestampToEcho\\...};
\node[lbl] (l99) at (560,3310) {\lc{< void, Ptr< const\\TcpSocketBase >, const\\SequenceNumber32 \&, uint32}{\_t, bool >}};
\node[lbl,align=left] (l100) at (559,3386) {< void, Ptr< const\\Packet >, const TcpHeader\\\&, Ptr< const TcpSocketBase > >};
\node[lbl,align=left] (l101) at (557,3451) {< void, Ptr< const\\TcpSocketState >, Ptr\\< const TcpSocketBase > >};
\node[lbl,align=left] (l102) at (560,3539) {< void, ns3::Ptr< ns3\\::TcpSocketMsgBase > >};
\node[lbl] (l103) at (1535,3338) {m\_updateRttCb};
\node[lbl] (l104) at (1535,3371) {m\_processedAckCb\\m\_rcvAckCb};
\node[lbl] (l105) at (1535,3416) {m\_afterRetrCallback\\m\_beforeRetrCallback};
\node[lbl] (l106) at (1535,3487) {m\_forkCb};
\end{tikzpicture}
\end{document}
